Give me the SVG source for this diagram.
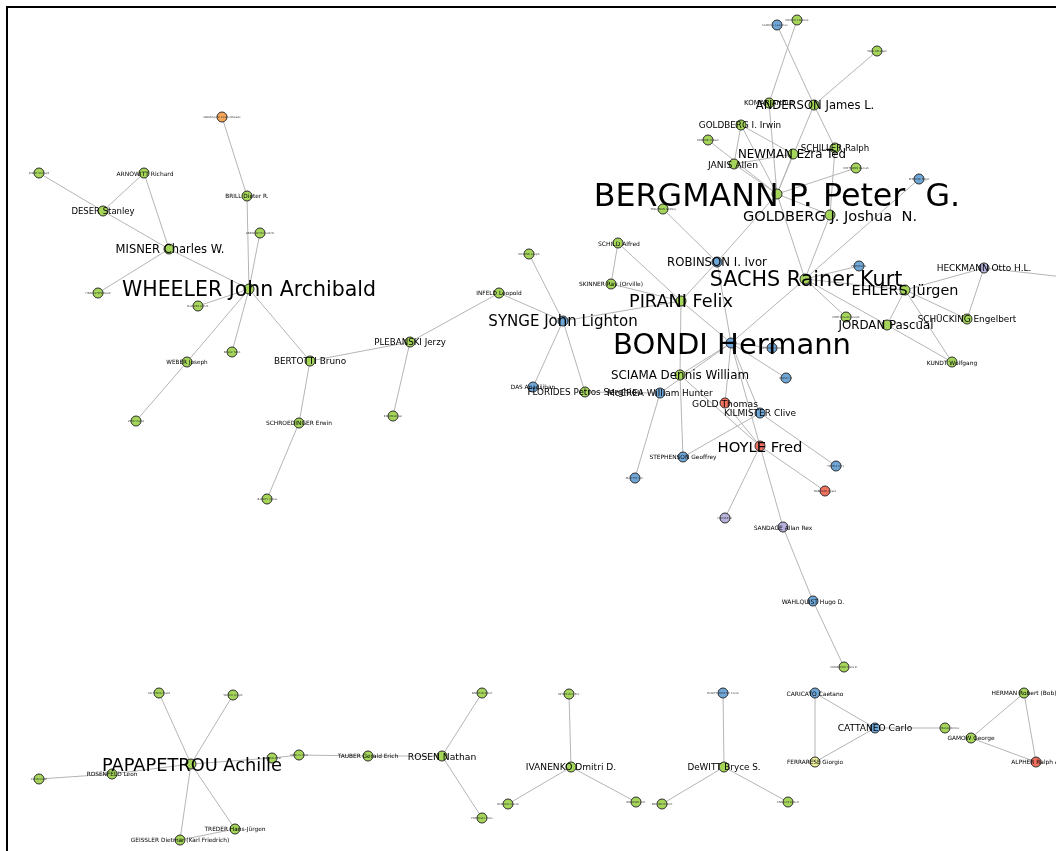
<svg xmlns="http://www.w3.org/2000/svg" width="1056" height="851" viewBox="0 0 1056 851">
<defs>
<filter id="nf" filterUnits="userSpaceOnUse" x="0" y="0" width="1056" height="851"><feOffset dx="0" dy="0"/></filter>
</defs>
<style>
.e line{stroke:#b5b5b5;stroke-width:1}
circle{stroke:#2b2b2b;stroke-width:1}
.g{fill:#a5d65a}.b{fill:#6fa6d8}.r{fill:#f2725f}.o{fill:#f6a55a}.p{fill:#b5b2dc}.y{fill:#eeef9c}
text{font-family:"DejaVu Sans","Liberation Sans",sans-serif;text-anchor:middle;dominant-baseline:central;fill:#000}
.t{font-size:2.6px;fill:#333}
#nodes{filter:url(#nf)}
</style>
<rect width="1056" height="851" fill="#fff"/>
<path d="M7 851V7H1056" fill="none" stroke="#000" stroke-width="2"/>
<g id="connectors" class="e">
<line x1="777" y1="25" x2="814" y2="105"/>
<line x1="797" y1="20" x2="769" y2="103"/>
<line x1="877" y1="51" x2="814" y2="105"/>
<line x1="769" y1="103" x2="777" y2="194"/>
<line x1="814" y1="105" x2="777" y2="194"/>
<line x1="814" y1="105" x2="835" y2="148"/>
<line x1="835" y1="148" x2="830" y2="215"/>
<line x1="741" y1="125" x2="793" y2="154"/>
<line x1="741" y1="125" x2="777" y2="194"/>
<line x1="741" y1="125" x2="734" y2="164"/>
<line x1="708" y1="140" x2="777" y2="194"/>
<line x1="734" y1="164" x2="777" y2="194"/>
<line x1="734" y1="164" x2="793" y2="154"/>
<line x1="793" y1="154" x2="777" y2="194"/>
<line x1="793" y1="154" x2="835" y2="148"/>
<line x1="856" y1="168" x2="777" y2="194"/>
<line x1="919" y1="179" x2="805" y2="279"/>
<line x1="777" y1="194" x2="830" y2="215"/>
<line x1="777" y1="194" x2="805" y2="279"/>
<line x1="777" y1="194" x2="717" y2="262"/>
<line x1="830" y1="215" x2="805" y2="279"/>
<line x1="663" y1="209" x2="717" y2="262"/>
<line x1="717" y1="262" x2="681" y2="301"/>
<line x1="717" y1="262" x2="731" y2="343"/>
<line x1="618" y1="243" x2="611" y2="284"/>
<line x1="618" y1="243" x2="681" y2="301"/>
<line x1="611" y1="284" x2="681" y2="301"/>
<line x1="681" y1="301" x2="731" y2="343"/>
<line x1="681" y1="301" x2="680" y2="375"/>
<line x1="681" y1="301" x2="563" y2="321"/>
<line x1="680" y1="375" x2="683" y2="457"/>
<line x1="805" y1="279" x2="731" y2="343"/>
<line x1="805" y1="279" x2="859" y2="266"/>
<line x1="805" y1="279" x2="905" y2="290"/>
<line x1="805" y1="279" x2="887" y2="325"/>
<line x1="805" y1="279" x2="846" y2="317"/>
<line x1="887" y1="325" x2="952" y2="362"/>
<line x1="905" y1="290" x2="887" y2="325"/>
<line x1="905" y1="290" x2="952" y2="362"/>
<line x1="905" y1="290" x2="967" y2="319"/>
<line x1="905" y1="290" x2="984" y2="268"/>
<line x1="984" y1="268" x2="967" y2="319"/>
<line x1="984" y1="268" x2="1064" y2="277"/>
<line x1="731" y1="343" x2="772" y2="348"/>
<line x1="731" y1="343" x2="786" y2="378"/>
<line x1="731" y1="343" x2="680" y2="375"/>
<line x1="731" y1="343" x2="660" y2="393"/>
<line x1="731" y1="343" x2="725" y2="403"/>
<line x1="731" y1="343" x2="760" y2="413"/>
<line x1="731" y1="343" x2="760" y2="446"/>
<line x1="680" y1="375" x2="760" y2="446"/>
<line x1="660" y1="393" x2="635" y2="478"/>
<line x1="660" y1="393" x2="585" y2="392"/>
<line x1="725" y1="403" x2="760" y2="446"/>
<line x1="760" y1="446" x2="825" y2="491"/>
<line x1="760" y1="413" x2="683" y2="457"/>
<line x1="760" y1="413" x2="836" y2="466"/>
<line x1="760" y1="446" x2="725" y2="518"/>
<line x1="760" y1="446" x2="783" y2="527"/>
<line x1="783" y1="527" x2="813" y2="601"/>
<line x1="813" y1="601" x2="844" y2="667"/>
<line x1="563" y1="321" x2="529" y2="254"/>
<line x1="563" y1="321" x2="499" y2="293"/>
<line x1="563" y1="321" x2="533" y2="387"/>
<line x1="563" y1="321" x2="585" y2="392"/>
<line x1="499" y1="293" x2="410" y2="342"/>
<line x1="410" y1="342" x2="310" y2="361"/>
<line x1="410" y1="342" x2="393" y2="416"/>
<line x1="310" y1="361" x2="249" y2="289"/>
<line x1="310" y1="361" x2="299" y2="423"/>
<line x1="299" y1="423" x2="267" y2="499"/>
<line x1="249" y1="289" x2="247" y2="196"/>
<line x1="247" y1="196" x2="222" y2="117"/>
<line x1="249" y1="289" x2="260" y2="233"/>
<line x1="249" y1="289" x2="169" y2="249"/>
<line x1="169" y1="249" x2="103" y2="211"/>
<line x1="103" y1="211" x2="39" y2="173"/>
<line x1="103" y1="211" x2="144" y2="173"/>
<line x1="144" y1="173" x2="169" y2="249"/>
<line x1="169" y1="249" x2="98" y2="293"/>
<line x1="249" y1="289" x2="198" y2="306"/>
<line x1="249" y1="289" x2="232" y2="352"/>
<line x1="249" y1="289" x2="187" y2="362"/>
<line x1="187" y1="362" x2="136" y2="421"/>
<line x1="191" y1="764" x2="159" y2="693"/>
<line x1="191" y1="764" x2="233" y2="695"/>
<line x1="191" y1="764" x2="272" y2="758"/>
<line x1="191" y1="764" x2="112" y2="774"/>
<line x1="112" y1="774" x2="39" y2="779"/>
<line x1="191" y1="764" x2="235" y2="829"/>
<line x1="191" y1="764" x2="180" y2="840"/>
<line x1="235" y1="829" x2="180" y2="840"/>
<line x1="272" y1="758" x2="299" y2="755"/>
<line x1="299" y1="755" x2="368" y2="756"/>
<line x1="368" y1="756" x2="442" y2="756"/>
<line x1="442" y1="756" x2="482" y2="693"/>
<line x1="442" y1="756" x2="482" y2="818"/>
<line x1="571" y1="767" x2="569" y2="694"/>
<line x1="571" y1="767" x2="508" y2="804"/>
<line x1="571" y1="767" x2="636" y2="802"/>
<line x1="724" y1="767" x2="723" y2="693"/>
<line x1="724" y1="767" x2="662" y2="804"/>
<line x1="724" y1="767" x2="788" y2="802"/>
<line x1="815" y1="693" x2="815" y2="762"/>
<line x1="815" y1="693" x2="875" y2="728"/>
<line x1="815" y1="762" x2="875" y2="728"/>
<line x1="875" y1="728" x2="945" y2="728"/>
<line x1="971" y1="738" x2="1024" y2="693"/>
<line x1="971" y1="738" x2="1036" y2="762"/>
<line x1="1024" y1="693" x2="1036" y2="762"/>
</g>
<g id="nodes">
<g id="n-clark"><circle class="b" cx="777" cy="25" r="5"/><text class="t" x="775" y="25">CLARK G. Lawrence</text></g>
<g id="n-797"><circle class="g" cx="797" cy="20" r="5"/><text class="t" x="797" y="20">KOHLER Christian</text></g>
<g id="n-877"><circle class="g" cx="877" cy="51" r="5"/><text class="t" x="877" y="51">TAUB Abraham</text></g>
<g id="n-708"><circle class="g" cx="708" cy="140" r="5"/><text class="t" x="708" y="140">BONNOR William</text></g>
<g id="n-856"><circle class="g" cx="856" cy="168" r="5"/><text class="t" x="856" y="168">HOFFMANN Banesh</text></g>
<g id="n-919"><circle class="b" cx="919" cy="179" r="5"/><text class="t" x="919" y="179">PENROSE Roger</text></g>
<g id="n-trautman"><circle class="g" cx="663" cy="209" r="5"/><text class="t" x="663" y="209">TRAUTMAN Andrzej</text></g>
<g id="n-859"><circle class="b" cx="859" cy="266" r="5"/><text class="t" x="859" y="266">PENROSE R.</text></g>
<g id="n-846"><circle class="g" cx="846" cy="317" r="5"/><text class="t" x="846" y="317">ERDT Anselm Joseph</text></g>
<g id="n-1064"><circle class="g" cx="1064" cy="277" r="5"/><text class="t" x="1064" y="277">OORT Jan</text></g>
<g id="n-772"><circle class="b" cx="772" cy="348" r="5"/><text class="t" x="772" y="348">METZNER A.W.K.</text></g>
<g id="n-786"><circle class="b" cx="786" cy="378" r="5"/><text class="t" x="786" y="378">HARVEY A.</text></g>
<g id="n-836"><circle class="b" cx="836" cy="466" r="5"/><text class="t" x="836" y="466">TEMPLE G.F.J.</text></g>
<g id="n-635"><circle class="b" cx="635" cy="478" r="5"/><text class="t" x="635" y="478">McVITTIE G.C.</text></g>
<g id="n-825"><circle class="r" cx="825" cy="491" r="5"/><text class="t" x="825" y="491">NARLIKAR Jayant</text></g>
<g id="n-725"><circle class="p" cx="725" cy="518" r="5"/><text class="t" x="725" y="518">FOWLER W.</text></g>
<g id="n-844"><circle class="g" cx="844" cy="667" r="5"/><text class="t" x="844" y="667">ESTABROOK Frank B.</text></g>
<g id="n-529"><circle class="g" cx="529" cy="254" r="5"/><text class="t" x="529" y="254">IRELAND Joseph</text></g>
<g id="n-393"><circle class="g" cx="393" cy="416" r="5"/><text class="t" x="393" y="416">ROZANSKI Jan</text></g>
<g id="n-222"><circle class="o" cx="222" cy="117" r="5"/><text class="t" x="222" y="117">GRAVES John Cowperthwaite</text></g>
<g id="n-39a"><circle class="g" cx="39" cy="173" r="5"/><text class="t" x="39" y="173">JOSEPH Richard</text></g>
<g id="n-260"><circle class="g" cx="260" cy="233" r="5"/><text class="t" x="260" y="233">LINDQUIST Richard W.</text></g>
<g id="n-98"><circle class="g" cx="98" cy="293" r="5"/><text class="t" x="98" y="293">FINKELSTEIN David</text></g>
<g id="n-198"><circle class="g" cx="198" cy="306" r="5"/><text class="t" x="198" y="306">KLAUDER John R.</text></g>
<g id="n-232"><circle class="g" cx="232" cy="352" r="5"/><text class="t" x="232" y="352">REGGE Tullio</text></g>
<g id="n-136"><circle class="g" cx="136" cy="421" r="5"/><text class="t" x="136" y="421">ZIPOY David</text></g>
<g id="n-267"><circle class="g" cx="267" cy="499" r="5"/><text class="t" x="267" y="499">HLAVATY Vaclav</text></g>
<g id="n-159"><circle class="g" cx="159" cy="693" r="5"/><text class="t" x="159" y="693">SCHÜTZ Bernard</text></g>
<g id="n-233"><circle class="g" cx="233" cy="695" r="5"/><text class="t" x="233" y="695">WEBER Joseph</text></g>
<g id="n-272"><circle class="g" cx="272" cy="758" r="5"/><text class="t" x="272" y="758">CORINALDESI</text></g>
<g id="n-299"><circle class="g" cx="299" cy="755" r="5"/><text class="t" x="299" y="755">HÖNL Helmut</text></g>
<g id="n-39b"><circle class="g" cx="39" cy="779" r="5"/><text class="t" x="39" y="779">KLEIN Oskar</text></g>
<g id="n-482a"><circle class="g" cx="482" cy="693" r="5"/><text class="t" x="482" y="693">EINSTEIN Albert</text></g>
<g id="n-482b"><circle class="g" cx="482" cy="818" r="5"/><text class="t" x="482" y="818">PODOLSKY Boris</text></g>
<g id="n-569"><circle class="g" cx="569" cy="694" r="5"/><text class="t" x="569" y="694">MITSKEVICH N.V.</text></g>
<g id="n-508"><circle class="g" cx="508" cy="804" r="5"/><text class="t" x="508" y="804">SOKOLOV Arsenii</text></g>
<g id="n-636"><circle class="g" cx="636" cy="802" r="5"/><text class="t" x="636" y="802">BRODSKII A.M.</text></g>
<g id="n-662"><circle class="g" cx="662" cy="804" r="5"/><text class="t" x="662" y="804">BREHME Robert</text></g>
<g id="n-723"><circle class="b" cx="723" cy="693" r="5"/><text class="t" x="723" y="693">DeWITT-MORETTE Cécile</text></g>
<g id="n-788"><circle class="g" cx="788" cy="802" r="5"/><text class="t" x="788" y="802">ENGELKE Robert</text></g>
<g id="n-945"><circle class="g" cx="945" cy="728" r="5"/><text class="t" x="950" y="728">MASSA Enrico</text></g>
<g id="n-komar"><circle class="g" cx="769" cy="103" r="5"/><text x="769" y="103" font-size="7">KOMAR Arthur</text></g>
<g id="n-arnowitt"><circle class="g" cx="144" cy="173" r="5"/><text x="145" y="173" font-size="6">ARNOWITT Richard</text></g>
<g id="n-brill"><circle class="g" cx="247" cy="196" r="5"/><text x="247" y="196" font-size="5.8">BRILL Dieter R.</text></g>
<g id="n-weber"><circle class="g" cx="187" cy="362" r="5"/><text x="187" y="362" font-size="5.7">WEBER Joseph</text></g>
<g id="n-schroedinger"><circle class="g" cx="299" cy="423" r="5"/><text x="299" y="423" font-size="5.9">SCHROEDINGER Erwin</text></g>
<g id="n-infeld"><circle class="g" cx="499" cy="293" r="5"/><text x="499" y="293" font-size="5.8">INFELD Leopold</text></g>
<g id="n-schild"><circle class="g" cx="618" cy="243" r="5"/><text x="619" y="243" font-size="6">SCHILD Alfred</text></g>
<g id="n-skinner"><circle class="g" cx="611" cy="284" r="5"/><text x="611" y="284" font-size="5.85">SKINNER Ray (Orville)</text></g>
<g id="n-das"><circle class="b" cx="533" cy="387" r="5"/><text x="533" y="387" font-size="5.8">DAS Anadijiban</text></g>
<g id="n-stephenson"><circle class="b" cx="683" cy="457" r="5"/><text x="683" y="457" font-size="5.9">STEPHENSON Geoffrey</text></g>
<g id="n-kundt"><circle class="g" cx="952" cy="362" r="5"/><text x="952" y="362" font-size="5.95">KUNDT Wolfgang</text></g>
<g id="n-sandage"><circle class="p" cx="783" cy="527" r="5"/><text x="783" y="527" font-size="5.95">SANDAGE Allan Rex</text></g>
<g id="n-wahlquist"><circle class="b" cx="813" cy="601" r="5"/><text x="813" y="601" font-size="6.05">WAHLQUIST Hugo D.</text></g>
<g id="n-rosenfeld"><circle class="g" cx="112" cy="774" r="5"/><text x="112" y="774" font-size="5.8">ROSENFELD Leon</text></g>
<g id="n-treder"><circle class="g" cx="235" cy="829" r="5"/><text x="235" y="829" font-size="5.8">TREDER Hans-Jürgen</text></g>
<g id="n-geissler"><circle class="g" cx="180" cy="840" r="5"/><text x="180" y="840" font-size="5.83">GEISSLER Dietmar (Karl Friedrich)</text></g>
<g id="n-tauber"><circle class="g" cx="368" cy="756" r="5"/><text x="368" y="756" font-size="5.8">TAUBER Gerald Erich</text></g>
<g id="n-caricato"><circle class="b" cx="815" cy="693" r="5"/><text x="815" y="693" font-size="5.95">CARICATO Caetano</text></g>
<g id="n-ferrarese"><circle class="y" cx="815" cy="762" r="5"/><text x="815" y="762" font-size="5.75">FERRARESE Giorgio</text></g>
<g id="n-gamow"><circle class="g" cx="971" cy="738" r="5"/><text x="971" y="738" font-size="5.85">GAMOW George</text></g>
<g id="n-herman"><circle class="g" cx="1024" cy="693" r="5"/><text x="1024" y="693" font-size="5.9">HERMAN Robert (Bob)</text></g>
<g id="n-alpher"><circle class="r" cx="1036" cy="762" r="5"/><text x="1036" y="762" font-size="5.9">ALPHER Ralph A.</text></g>
<g id="n-deser"><circle class="g" cx="103" cy="211" r="5"/><text x="103" y="211" font-size="8.5">DESER Stanley</text></g>
<g id="n-plebanski"><circle class="g" cx="410" cy="342" r="5"/><text x="410" y="342" font-size="8.7">PLEBANSKI Jerzy</text></g>
<g id="n-schiller"><circle class="g" cx="835" cy="148" r="5"/><text x="835" y="148" font-size="8.6">SCHILLER Ralph</text></g>
<g id="n-goldbergi"><circle class="g" cx="741" cy="125" r="5"/><text x="740" y="125" font-size="8.8">GOLDBERG I. Irwin</text></g>
<g id="n-janis"><circle class="g" cx="734" cy="164" r="5"/><text x="733" y="164" font-size="9.2">JANIS Allen</text></g>
<g id="n-bertotti"><circle class="g" cx="310" cy="361" r="5"/><text x="310" y="361" font-size="8.9">BERTOTTI Bruno</text></g>
<g id="n-florides"><circle class="g" cx="585" cy="392" r="5"/><text x="585" y="392" font-size="8.8">FLORIDES Petros Serghiou</text></g>
<g id="n-mccrea"><circle class="b" cx="660" cy="393" r="5"/><text x="660" y="393" font-size="8.9">McCREA William Hunter</text></g>
<g id="n-gold"><circle class="r" cx="725" cy="403" r="5"/><text x="725" y="403" font-size="9.2">GOLD Thomas</text></g>
<g id="n-kilmister"><circle class="b" cx="760" cy="413" r="5"/><text x="760" y="413" font-size="9">KILMISTER Clive</text></g>
<g id="n-schucking"><circle class="g" cx="967" cy="319" r="5"/><text x="967" y="319" font-size="8.85">SCHÜCKING Engelbert</text></g>
<g id="n-heckmann"><circle class="p" cx="984" cy="268" r="5"/><text x="984" y="268" font-size="9">HECKMANN Otto H.L.</text></g>
<g id="n-rosen"><circle class="g" cx="442" cy="756" r="5"/><text x="442" y="756" font-size="9.2">ROSEN Nathan</text></g>
<g id="n-ivanenko"><circle class="g" cx="571" cy="767" r="5"/><text x="571" y="767" font-size="9.1">IVANENKO Dmitri D.</text></g>
<g id="n-dewitt"><circle class="g" cx="724" cy="767" r="5"/><text x="724" y="767" font-size="8.8">DeWITT Bryce S.</text></g>
<g id="n-cattaneo"><circle class="b" cx="875" cy="728" r="5"/><text x="875" y="728" font-size="9.1">CATTANEO Carlo</text></g>
<g id="n-misner"><circle class="g" cx="169" cy="249" r="5"/><text x="170" y="249" font-size="11.5">MISNER Charles W.</text></g>
<g id="n-anderson"><circle class="g" cx="814" cy="105" r="5"/><text x="815" y="105" font-size="11.6">ANDERSON James L.</text></g>
<g id="n-newman"><circle class="g" cx="793" cy="154" r="5"/><text x="792" y="154" font-size="11.8">NEWMAN Ezra Ted</text></g>
<g id="n-robinson"><circle class="b" cx="717" cy="262" r="5"/><text x="717" y="262" font-size="11.7">ROBINSON I. Ivor</text></g>
<g id="n-jordan"><circle class="g" cx="887" cy="325" r="5"/><text x="886" y="325" font-size="11.8">JORDAN Pascual</text></g>
<g id="n-sciama"><circle class="g" cx="680" cy="375" r="5"/><text x="680" y="375" font-size="11.9">SCIAMA Dennis William</text></g>
<g id="n-goldbergj"><circle class="g" cx="830" cy="215" r="5"/><text x="830" y="215" font-size="14.6" xml:space="preserve">GOLDBERG J. Joshua  N.</text></g>
<g id="n-ehlers"><circle class="g" cx="905" cy="290" r="5"/><text x="905" y="290" font-size="14.4">EHLERS Jürgen</text></g>
<g id="n-hoyle"><circle class="r" cx="760" cy="446" r="5"/><text x="760" y="446" font-size="14.8">HOYLE Fred</text></g>
<g id="n-synge"><circle class="b" cx="563" cy="321" r="5"/><text x="563" y="321" font-size="15">SYNGE John Lighton</text></g>
<g id="n-pirani"><circle class="g" cx="681" cy="301" r="5"/><text x="681" y="301" font-size="17.7">PIRANI Felix</text></g>
<g id="n-papapetrou"><circle class="g" cx="191" cy="764" r="5"/><text x="192" y="764" font-size="17.8">PAPAPETROU Achille</text></g>
<g id="n-wheeler"><circle class="g" cx="249" cy="289" r="5"/><text x="249" y="289" font-size="20.5">WHEELER John Archibald</text></g>
<g id="n-sachs"><circle class="g" cx="805" cy="279" r="5"/><text x="806" y="279" font-size="20.7">SACHS Rainer Kurt</text></g>
<g id="n-bondi"><circle class="b" cx="731" cy="343" r="5"/><text x="732" y="344" font-size="29">BONDI Hermann</text></g>
<g id="n-bergmann"><circle class="g" cx="777" cy="194" r="5"/><text x="777" y="195" font-size="31.7" xml:space="preserve">BERGMANN P. Peter  G.</text></g>
</g>
</svg>
